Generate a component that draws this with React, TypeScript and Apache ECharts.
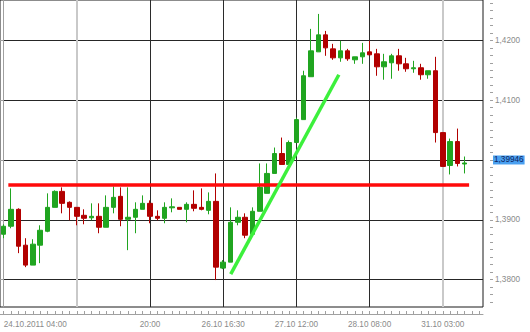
import React, { useEffect, useRef } from 'react';
import * as echarts from 'echarts';

// [open, close, low, high]
const candles: number[][] = [
  [1.38758, 1.38892, 1.38692, 1.38925],
  [1.38892, 1.39175, 1.38858, 1.39525],
  [1.39175, 1.38558, 1.38442, 1.39192],
  [1.38575, 1.38242, 1.38208, 1.38692],
  [1.38242, 1.38592, 1.38242, 1.38675],
  [1.38575, 1.38825, 1.38275, 1.38908],
  [1.38808, 1.39208, 1.38792, 1.39442],
  [1.39208, 1.39475, 1.39208, 1.39492],
  [1.39475, 1.39275, 1.39108, 1.39542],
  [1.39292, 1.39208, 1.38992, 1.39308],
  [1.39208, 1.39058, 1.38908, 1.39208],
  [1.39075, 1.39025, 1.38925, 1.39175],
  [1.39033, 1.39058, 1.38992, 1.39275],
  [1.39058, 1.38875, 1.38775, 1.39275],
  [1.38875, 1.39208, 1.38875, 1.39408],
  [1.39208, 1.39375, 1.39108, 1.39558],
  [1.39392, 1.39008, 1.38892, 1.39542],
  [1.39008, 1.39042, 1.38492, 1.39542],
  [1.39042, 1.39175, 1.38775, 1.39292],
  [1.39175, 1.39275, 1.39175, 1.39408],
  [1.39275, 1.39058, 1.38942, 1.39325],
  [1.39058, 1.39025, 1.38992, 1.39158],
  [1.39025, 1.39208, 1.38942, 1.39292],
  [1.392, 1.39217, 1.39125, 1.39358],
  [1.39208, 1.39175, 1.39175, 1.39208],
  [1.39175, 1.39258, 1.38958, 1.39292],
  [1.39258, 1.39192, 1.39142, 1.39492],
  [1.39208, 1.39175, 1.39158, 1.39525],
  [1.39158, 1.39308, 1.39092, 1.39458],
  [1.39308, 1.38208, 1.37992, 1.39775],
  [1.38192, 1.38292, 1.38175, 1.38325],
  [1.38292, 1.38958, 1.38292, 1.39208],
  [1.38958, 1.39042, 1.38908, 1.39158],
  [1.39042, 1.38742, 1.38692, 1.39108],
  [1.38758, 1.39142, 1.38758, 1.39208],
  [1.39142, 1.39542, 1.39142, 1.39942],
  [1.39442, 1.39775, 1.39442, 1.39942],
  [1.39775, 1.40108, 1.39775, 1.40208],
  [1.40108, 1.39925, 1.39925, 1.40375],
  [1.39925, 1.40292, 1.39925, 1.40325],
  [1.40292, 1.40675, 1.40292, 1.40708],
  [1.40675, 1.41408, 1.40675, 1.41492],
  [1.41392, 1.41825, 1.41392, 1.42192],
  [1.41808, 1.42092, 1.41808, 1.42442],
  [1.42092, 1.41875, 1.41742, 1.42158],
  [1.41858, 1.41708, 1.41675, 1.41942],
  [1.41708, 1.41825, 1.41642, 1.41992],
  [1.41825, 1.41692, 1.41658, 1.41858],
  [1.41675, 1.41725, 1.41608, 1.41725],
  [1.41725, 1.41792, 1.41608, 1.41958],
  [1.41808, 1.41758, 1.41758, 1.41992],
  [1.41775, 1.41558, 1.41408, 1.41858],
  [1.41558, 1.41642, 1.41342, 1.41775],
  [1.41625, 1.41742, 1.41358, 1.41775],
  [1.41742, 1.41608, 1.41492, 1.41858],
  [1.41608, 1.41525, 1.41475, 1.41708],
  [1.41525, 1.41542, 1.41458, 1.41658],
  [1.41542, 1.41425, 1.41342, 1.41608],
  [1.41425, 1.41492, 1.41358, 1.41492],
  [1.41492, 1.40458, 1.40292, 1.41725],
  [1.40458, 1.39892, 1.39892, 1.40458],
  [1.39908, 1.40308, 1.39758, 1.40358],
  [1.40308, 1.39942, 1.39892, 1.40525],
  [1.39933, 1.3995, 1.39775, 1.40058],
];

const slotCount = 66;
const xTickIndex = [0, 20, 30, 40, 50, 60];
const xTickLabels = ['24.10.2011 04:00', '20:00', '26.10 16:30', '27.10 12:00', '28.10 08:00', '31.10 03:00'];
const dayGridIndex = [10, 60];
const hourGridIndex = [20, 30, 40, 50];
const yMajorTicks = [1.38, 1.39, 1.4, 1.41, 1.42];
const yMinorPerMajor = 8;
const yMin = 1.3754167;
const yMax = 1.42675;
const lastPrice = 1.39946;
const supportLine = [[0.64, 1.3958], [63.6, 1.3958]];
const trendLine = [[31.03, 1.38092], [45.8, 1.41425]];

const fontFamily = '"Liberation Sans", Arial, sans-serif';

export default function App() {
  const ref = useRef<HTMLDivElement>(null);
  useEffect(() => {
    document.body.style.margin = '0';
    if (!ref.current) return;
    const chart = echarts.init(ref.current, undefined, { renderer: 'svg' });

    const categories: any[] = [];
    for (let i = 0; i < slotCount; i++) {
      categories.push(i === 0 ? { value: String(i), textStyle: { align: 'left' } } : String(i));
    }
    const labelAt: Record<number, string> = {};
    xTickIndex.forEach((idx, k) => (labelAt[idx] = xTickLabels[k]));

    const step = (yMajorTicks[1] - yMajorTicks[0]) / yMinorPerMajor;
    const minorTicks: number[] = [];
    for (let t = yMajorTicks[0] - step * yMinorPerMajor; t < yMax; t += step) {
      const v = Math.round(t * 1e6) / 1e6;
      if (v > yMin && v < yMax) minorTicks.push(v);
    }

    const gridData = [
      ...dayGridIndex.map((i) => [i, 1]),
      ...hourGridIndex.map((i) => [i, 0]),
    ];

    chart.setOption({
      animation: false,
      backgroundColor: '#ffffff',
      textStyle: { fontFamily },
      grid: {
        left: -3.7,
        right: 47,
        top: -1,
        bottom: 25,
        show: true,
        borderColor: '#1a1a1a',
        borderWidth: 1,
        backgroundColor: '#ffffff',
      },
      xAxis: [
        {
          type: 'category',
          data: categories,
          boundaryGap: true,
          position: 'bottom',
          offset: 7,
          axisLine: { show: true, lineStyle: { color: '#a0a0a0', width: 1 } },
          axisTick: { show: true, inside: true, alignWithLabel: true, interval: 0, length: 3, lineStyle: { color: '#a0a0a0' } },
          axisLabel: {
            show: true,
            interval: 0,
            margin: 6,
            color: '#8a8a8a',
            fontSize: 8.2,
            fontFamily,
            formatter: (_v: string, idx: number) => labelAt[idx] ?? '',
          },
          splitLine: { show: false },
        },
        {
          type: 'value',
          min: -0.5,
          max: slotCount - 0.5,
          show: false,
          splitLine: { show: false },
        },
      ],
      yAxis: [
        {
          type: 'value',
          min: yMin,
          max: yMax,
          splitNumber: 5,
          position: 'right',
          offset: 10,
          axisLine: { show: true, lineStyle: { color: '#a0a0a0' } },
          axisTick: { show: true, inside: true, length: 5, lineStyle: { color: '#a0a0a0' } },
          axisLabel: {
            show: true,
            margin: 2,
            color: '#8a8a8a',
            fontSize: 8.2,
            fontFamily,
            showMinLabel: false,
            showMaxLabel: false,
            // the last-price flag covers the tick label it sits on
            formatter: (v: number) => (Math.abs(v - lastPrice) < 0.002 ? '' : v.toFixed(4).replace('.', ',')),
          },
          splitLine: { show: true, showMinLine: false, showMaxLine: false, lineStyle: { color: '#262626', width: 1 } },
        },
        {
          type: 'value',
          min: yMin,
          max: yMax,
          position: 'right',
          offset: 10,
          axisLine: { show: false },
          axisLabel: { show: false },
          splitLine: { show: false },
          axisTick: { show: true, inside: true, length: 3, customValues: minorTicks, lineStyle: { color: '#a0a0a0' } },
        },
      ],
      series: [
        {
          type: 'custom',
          xAxisIndex: 1,
          yAxisIndex: 0,
          z: 1,
          silent: true,
          data: gridData,
          renderItem: (params: any, api: any) => {
            const cs = params.coordSys;
            const day = api.value(1) === 1;
            const raw = api.coord([api.value(0), yMin])[0];
            const x = day ? Math.round(raw) : Math.round(raw - 0.5) + 0.5;
            return {
              type: 'line',
              shape: { x1: x, y1: cs.y, x2: x, y2: cs.y + cs.height },
              style: { stroke: day ? '#c9c9c9' : '#2b2b2b', lineWidth: day ? 2 : 1 },
            };
          },
        },
        {
          type: 'candlestick',
          xAxisIndex: 0,
          yAxisIndex: 0,
          z: 3,
          barWidth: 5,
          data: candles,
          itemStyle: {
            color: '#20a520',
            color0: '#b20000',
            borderColor: '#20a520',
            borderColor0: '#b20000',
            borderWidth: 1,
          },
          markLine: {
            silent: true,
            symbol: ['none', 'none'],
            lineStyle: { color: 'transparent', width: 0 },
            label: {
              show: true,
              position: 'end',
              distance: 10,
              formatter: () => lastPrice.toFixed(5).replace('.', ','),
              backgroundColor: '#4aa0f0',
              color: '#0c2360',
              fontSize: 8.2,
              fontFamily,
              padding: [1, 1, 0, 1],
            },
            emphasis: { disabled: true },
            data: [{ yAxis: lastPrice }],
          },
        },
        {
          type: 'line',
          xAxisIndex: 1,
          yAxisIndex: 0,
          z: 4,
          silent: true,
          symbol: 'none',
          data: supportLine,
          lineStyle: { color: '#ff0a0a', width: 3.5 },
        },
        {
          type: 'line',
          xAxisIndex: 1,
          yAxisIndex: 0,
          z: 4,
          silent: true,
          symbol: 'none',
          data: trendLine,
          lineStyle: { color: '#3cf03c', width: 3.5 },
        },
      ],
    });
    return () => chart.dispose();
  }, []);
  return <div ref={ref} style={{ position: 'absolute', left: 0, top: 0, width: 530, height: 332 }} />;
}
